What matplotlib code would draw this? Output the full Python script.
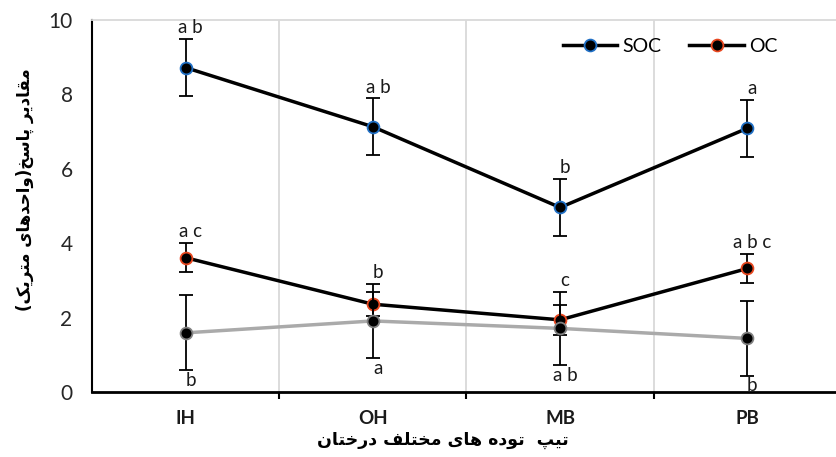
import numpy as np
import matplotlib.pyplot as plt
import matplotlib.transforms as mtransforms
from matplotlib.lines import Line2D

# داده ها
categories = ['IH', 'OH', 'MB', 'PB']
soc = [8.72, 7.13, 4.96, 7.09]
soc_err = [0.77, 0.76, 0.77, 0.77]
oc = [3.61, 2.36, 1.94, 3.32]
oc_err = [0.39, 0.32, 0.40, 0.38]
third = [1.59, 1.91, 1.71, 1.44]
third_err = [1.01, 1.00, 0.98, 1.00]
soc_letters = ['a b', 'a b', 'b', 'a']
oc_letters = ['a c', 'b', 'c', 'a b c']
third_letters = ['b', 'a', 'a b', 'b']
y_label = 'مقادیر پاسخ(واحدهای متریک)'
x_label = 'تیپ  توده های مختلف درختان'

#%% شکل دهی حروف فارسی (matplotlib خودش این کار را نمی کند)
# (isolated, final, initial, medial)
FORMS = {
    '\u0627': ('\uFE8D', '\uFE8E', None, None),   # ا
    '\u062F': ('\uFEA9', '\uFEAA', None, None),   # د
    '\u0631': ('\uFEAD', '\uFEAE', None, None),   # ر
    '\u0648': ('\uFEED', '\uFEEE', None, None),   # و
    '\u067E': ('\uFB56', '\uFB57', '\uFB58', '\uFB59'),  # پ
    '\u062A': ('\uFE95', '\uFE96', '\uFE97', '\uFE98'),  # ت
    '\u062D': ('\uFEA1', '\uFEA2', '\uFEA3', '\uFEA4'),  # ح
    '\u062E': ('\uFEA5', '\uFEA6', '\uFEA7', '\uFEA8'),  # خ
    '\u0633': ('\uFEB1', '\uFEB2', '\uFEB3', '\uFEB4'),  # س
    '\u0641': ('\uFED1', '\uFED2', '\uFED3', '\uFED4'),  # ف
    '\u0642': ('\uFED5', '\uFED6', '\uFED7', '\uFED8'),  # ق
    '\u0644': ('\uFEDD', '\uFEDE', '\uFEDF', '\uFEE0'),  # ل
    '\u0645': ('\uFEE1', '\uFEE2', '\uFEE3', '\uFEE4'),  # م
    '\u0646': ('\uFEE5', '\uFEE6', '\uFEE7', '\uFEE8'),  # ن
    '\u0647': ('\uFEE9', '\uFEEA', '\uFEEB', '\uFEEC'),  # ه
    '\u06CC': ('\uFBFC', '\uFBFD', '\uFBFE', '\uFBFF'),  # ی
    '\u06A9': ('\uFB8E', '\uFB8F', '\uFB90', '\uFB91'),  # ک
}
MIRROR = {'(': ')', ')': '('}


def shape(text):
    out = []
    for i, ch in enumerate(text):
        if ch not in FORMS:
            out.append(MIRROR.get(ch, ch))
            continue
        f = FORMS[ch]
        prev = text[i - 1] if i > 0 else ''
        nxt = text[i + 1] if i + 1 < len(text) else ''
        join_prev = prev in FORMS and FORMS[prev][2] is not None
        join_next = f[2] is not None and nxt in FORMS
        if join_prev and join_next:
            out.append(f[3])
        elif join_prev:
            out.append(f[1])
        elif join_next:
            out.append(f[2])
        else:
            out.append(f[0])
    return ''.join(out[::-1])


#%% رسم
plt.rcParams['font.family'] = ['Lato', 'DejaVu Sans']
fig = plt.figure(figsize=(8.37, 4.57), dpi=100)
ax = fig.add_axes([92 / 837, 1 - 392 / 457, (841 - 92) / 837, (392 - 20) / 457])

x = np.arange(1, len(categories) + 1)
style = dict(lw=2.5, marker='o', ms=8.5, mfc='black', mew=1.3, ecolor='black',
             elinewidth=1.3, capsize=5, capthick=1.3)

ax.errorbar(x, soc, yerr=soc_err, color='black', mec='#1f6fc5', zorder=3, **style)
ax.errorbar(x, oc, yerr=oc_err, color='black', mec='#e8461e', zorder=3, **style)
ax.errorbar(x, third, yerr=third_err, color='#aaaaaa', mec='#808080', zorder=4, **style)

# حروف معنی داری
shift = ax.transData + mtransforms.ScaledTranslation(5 / 100, 0, fig.dpi_scale_trans)
for i in range(len(categories)):
    ax.text(x[i], soc[i] + soc_err[i] + 0.16, soc_letters[i], transform=shift,
            ha='center', va='baseline', fontsize=13.5, color='#1a1a1a')
    top = max(oc[i] + oc_err[i], third[i] + third_err[i])
    ax.text(x[i], top + 0.16, oc_letters[i], transform=shift,
            ha='center', va='baseline', fontsize=13.5, color='#1a1a1a')
    ax.text(x[i], third[i] - third_err[i] - 0.05, third_letters[i], transform=shift,
            ha='center', va='top', fontsize=13.5, color='#1a1a1a')

ax.set_xlim(0.5, 4.5)
ax.set_ylim(0, 10)
ax.set_yticks(range(0, 11, 2))
ax.set_xticks([1.5, 2.5, 3.5])
ax.set_xticklabels([])
ax.set_xticks(x, minor=True)
ax.set_xticklabels(categories, minor=True, fontweight='bold', fontsize=13.5)
ax.tick_params(axis='x', which='major', direction='out', length=5, width=1.5, color='black')
ax.tick_params(axis='x', which='minor', length=0, pad=13, labelcolor='#1a1a1a')
ax.tick_params(axis='y', length=0, pad=14, labelsize=15, labelcolor='#262626')
ax.grid(axis='x', which='major', color='#d9d9d9', lw=1.3)

ax.spines['left'].set_linewidth(1.5)
ax.spines['bottom'].set_linewidth(2.0)
ax.spines['top'].set_color('#d9d9d9')
ax.spines['top'].set_linewidth(1.3)
ax.spines['right'].set_visible(False)

fig.text(25 / 837, 1 - 190 / 457, shape(y_label), rotation=90, ha='center', va='center',
         fontsize=12, fontweight='bold', family='DejaVu Sans')
fig.text(443 / 837, 1 - 440 / 457, shape(x_label), ha='center', va='center',
         fontsize=12.5, fontweight='bold', family='DejaVu Sans')

handles = [Line2D([], [], color='black', lw=2.5, marker='o', ms=8.5, mfc='black',
                  mec='#1f6fc5', mew=1.3),
           Line2D([], [], color='black', lw=2.5, marker='o', ms=8.5, mfc='black',
                  mec='#e8461e', mew=1.3)]
ax.legend(handles, ['SOC', 'OC'], loc='center left',
          bbox_to_anchor=(563 / 837, 1 - 46 / 457),
          bbox_transform=fig.transFigure, ncol=2, frameon=False, fontsize=14,
          handlelength=2.8, handletextpad=0.25, columnspacing=1.45,
          borderpad=0, borderaxespad=0)

plt.savefig('out.png', dpi=100)
